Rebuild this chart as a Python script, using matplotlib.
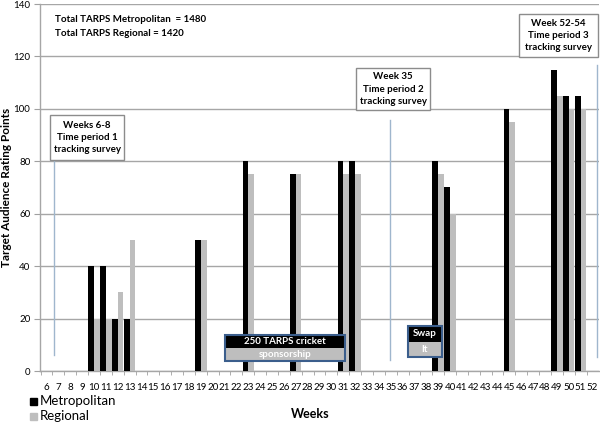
import matplotlib
matplotlib.use("Agg")
import matplotlib.pyplot as plt
from matplotlib.patches import Rectangle

plt.rcParams['font.family'] = ['Lato', 'DejaVu Sans']

# ---- data ----
week_labels = list(range(6, 53))
weeks = [10, 11, 12, 13, 19, 23, 27, 31, 32, 39, 40, 45, 49, 50, 51]
metropolitan = [40, 40, 20, 20, 50, 80, 75, 80, 80, 80, 70, 100, 115, 105, 105]
regional = [20, 20, 30, 50, 50, 75, 75, 75, 75, 75, 60, 95, 105, 100, 100]
y_ticks = [0, 20, 40, 60, 80, 100, 120, 140]

W, H = 600, 423
fig = plt.figure(figsize=(W / 100, H / 100), dpi=100)
ax = fig.add_axes([40 / W, 1 - 371 / H, 559 / W, 367 / H])

bw = 0.48
ax.bar([w - bw / 2 for w in weeks], metropolitan, width=bw, color='#000000',
       label='Metropolitan', zorder=3)
ax.bar([w + bw / 2 for w in weeks], regional, width=bw, color='#BEBEBE',
       label='Regional', zorder=3)

ax.set_xlim(5.45, 52.55)
ax.set_ylim(0, 140)
ax.set_yticks(y_ticks)
ax.set_xticks(week_labels)
ax.set_xticklabels([str(w) for w in week_labels])
ax.set_xticks([w + 0.5 for w in week_labels[:-1]] + [5.5], minor=True)
ax.tick_params(axis='x', which='major', length=0, labelsize=7, pad=8.5, colors='#000000')
ax.tick_params(axis='x', which='minor', length=3, color='#A0A0A0', direction='out')
ax.tick_params(axis='y', length=4, color='#A0A0A0', labelsize=7, pad=3)
ax.grid(axis='y', color='#A6A6A6', linewidth=1, zorder=0)
for s in ['top', 'right']:
    ax.spines[s].set_visible(False)
for s in ['left', 'bottom']:
    ax.spines[s].set_color('#A6A6A6')
    ax.spines[s].set_linewidth(1)

ax.set_ylabel('Target Audience Rating Points', fontsize=8.5, fontweight='bold')
ax.yaxis.set_label_coords(-28 / 559, 0.5)
fig.text(310 / W, 1 - 414 / H, 'Weeks', ha='center', va='center',
         fontsize=9, fontweight='bold')

# legend
fig.add_artist(Rectangle((30 / W, 1 - 404.5 / H), 6.5 / W, 7 / H,
                         transform=fig.transFigure, color='#000000'))
fig.text(40 / W, 1 - 400.5 / H, 'Metropolitan', ha='left', va='center', fontsize=9.5)
fig.add_artist(Rectangle((30 / W, 1 - 419.5 / H), 6.5 / W, 7 / H,
                         transform=fig.transFigure, color='#BEBEBE'))
fig.text(40 / W, 1 - 415.5 / H, 'Regional', ha='left', va='center', fontsize=9.5)

# vertical marker lines
line_kw = dict(color='#9FB6CD', linewidth=1, zorder=2)
ax.plot([6.65, 6.65], [6, 80.5], **line_kw)
ax.plot([34.9, 34.9], [4.2, 95.6], **line_kw)
ax.plot([52.35, 52.35], [5.3, 116.6], **line_kw)

# annotations
fig.text(55 / W, 1 - 20 / H, 'Total TARPS Metropolitan  = 1480', ha='left',
         va='center', fontsize=7, fontweight='bold')
fig.text(55 / W, 1 - 33 / H, 'Total TARPS Regional = 1420', ha='left',
         va='center', fontsize=7, fontweight='bold')


def box(x0, y0, x1, y1, lines):
    fig.add_artist(Rectangle((x0 / W, 1 - y1 / H), (x1 - x0) / W, (y1 - y0) / H,
                             transform=fig.transFigure, facecolor='white',
                             edgecolor='#8C8C8C', linewidth=1, zorder=5))
    fig.text((x0 + x1) / 2 / W, 1 - (y0 + y1) / 2 / H, '\n'.join(lines),
             ha='center', va='center', fontsize=7, fontweight='bold',
             linespacing=1.45, zorder=6)


box(50, 115, 124, 160, ['Weeks 6-8', 'Time period 1', 'tracking survey'])
box(356, 68, 430, 110, ['Week 35', 'Time period 2', 'tracking survey'])
box(519, 14, 598, 57, ['Week 52-54', 'Time period 3', 'tracking survey'])


def split_box(x0, y0, x1, y1, top, bottom):
    ym = (y0 + y1) / 2
    fig.add_artist(Rectangle((x0 / W, 1 - ym / H), (x1 - x0) / W, (ym - y0) / H,
                             transform=fig.transFigure, facecolor='#000000',
                             edgecolor='none', zorder=5))
    fig.add_artist(Rectangle((x0 / W, 1 - y1 / H), (x1 - x0) / W, (y1 - ym) / H,
                             transform=fig.transFigure, facecolor='#BEBEBE',
                             edgecolor='none', zorder=5))
    fig.add_artist(Rectangle((x0 / W, 1 - y1 / H), (x1 - x0) / W, (y1 - y0) / H,
                             transform=fig.transFigure, facecolor='none',
                             edgecolor='#3B5E8C', linewidth=1.5, zorder=6))
    fig.text((x0 + x1) / 2 / W, 1 - (y0 + ym) / 2 / H, top, color='white',
             ha='center', va='center', fontsize=7, fontweight='bold', zorder=7)
    fig.text((x0 + x1) / 2 / W, 1 - (ym + y1) / 2 / H, bottom, color='white',
             ha='center', va='center', fontsize=7, fontweight='bold', zorder=7)


split_box(225, 335, 345, 361, '250 TARPS cricket', 'sponsorship')
split_box(408, 326, 442, 357, 'Swap', 'It')

fig.savefig('out.png', dpi=100)
